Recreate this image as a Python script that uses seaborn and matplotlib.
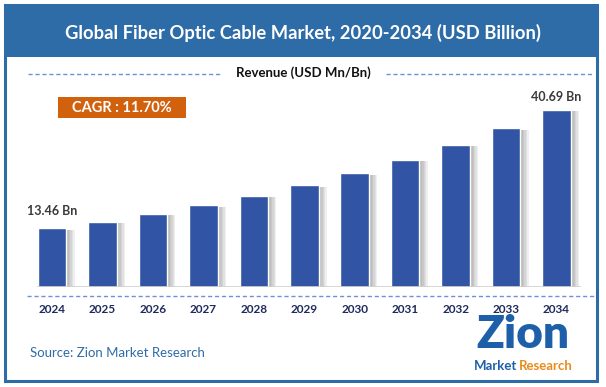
import matplotlib
matplotlib.use("Agg")
import matplotlib.pyplot as plt
import matplotlib.patheffects as pe
from matplotlib.patches import Rectangle
from matplotlib.lines import Line2D
import seaborn as sns
import pandas as pd

years = ["2024", "2025", "2026", "2027", "2028", "2029",
         "2030", "2031", "2032", "2033", "2034"]
revenue = [13.46, 15.03, 16.79, 18.76, 20.96, 23.41,
           26.15, 29.21, 32.63, 36.44, 40.69]
first_label = "13.46 Bn"
last_label = "40.69 Bn"
cagr_text = "CAGR : 11.70%"

W, H = 606, 387
BLUE_BAR = "#3155a4"
BLUE_FRAME = "#2e6ca8"
ORANGE = "#d2610e"

sns.set_style("white")
plt.rcParams["font.family"] = ["Lato", "DejaVu Sans"]

fig = plt.figure(figsize=(W / 100, H / 100), dpi=100)

def fx(px):
    return px / W

def fy(py):
    return 1 - py / H

# frame and banner
fig.patches.append(Rectangle((fx(5), fy(381)), fx(597) - fx(5), fy(5) - fy(381),
                             transform=fig.transFigure, fill=False,
                             edgecolor=BLUE_FRAME, lw=2.2))
fig.patches.append(Rectangle((fx(5), fy(57)), fx(597) - fx(5), fy(5) - fy(57),
                             transform=fig.transFigure, facecolor=BLUE_FRAME,
                             edgecolor="none"))
fig.text(fx(303), fy(33), "Global Fiber Optic Cable Market, 2020-2034 (USD Billion)",
         color="white", fontsize=13.2, fontweight="bold", ha="center", va="center")

# legend line
fig.text(fx(303), fy(73), "Revenue (USD Mn/Bn)", fontsize=9.5, fontweight="bold",
         color="#111111", ha="center", va="center")
for x0, x1 in [(28, 222), (386, 594)]:
    fig.lines.append(Line2D([fx(x0), fx(x1)], [fy(74), fy(74)], transform=fig.transFigure,
                            color="#6f8fd8", lw=1, ls=(0, (3, 2))))

# bars
df = pd.DataFrame({"year": years, "revenue": revenue})
ax = fig.add_axes([fx(27), fy(287), fx(594) - fx(27), fy(90) - fy(287)])
sns.barplot(data=df, x="year", y="revenue", color=BLUE_BAR, width=0.565,
            saturation=1, ax=ax)
# soft drop shadow to the right
shadow = [pe.SimplePatchShadow(offset=(d, -1), shadow_rgbFace="#555555", alpha=0.09)
          for d in (6, 5, 4, 3, 2)]
for p in ax.patches:
    p.set_path_effects(shadow + [pe.Normal()])
ax.set_xlim(-0.4955, 10.743)
ax.set_ylim(0, 197 / 4.35)
ax.hlines(0, -0.3, 10.49, color="#d0d0d0", lw=1.2)
for s in ax.spines.values():
    s.set_visible(False)
ax.set_yticks([])
ax.set_xlabel("")
ax.set_ylabel("")
ax.tick_params(axis="x", length=0, pad=12)
for lab in ax.get_xticklabels():
    lab.set_fontsize(8.5)
    lab.set_fontweight("bold")
    lab.set_color("#1f2a5c")

ax.annotate(first_label, (0, revenue[0]), xytext=(0, 8), textcoords="offset points",
            ha="center", va="bottom", fontsize=9, fontweight="bold", color="#3a3a3a")
ax.annotate(last_label, (10, revenue[-1]), xytext=(0, 5), textcoords="offset points",
            ha="center", va="bottom", fontsize=9, fontweight="bold", color="#3a3a3a")

fig.lines.append(Line2D([fx(27), fx(594)], [fy(296), fy(296)], transform=fig.transFigure,
                        color="#6f8fd8", lw=1, ls=(0, (3, 2))))

# CAGR box
fig.patches.append(Rectangle((fx(58), fy(118)), fx(186) - fx(58), fy(97) - fy(118),
                             transform=fig.transFigure, facecolor=ORANGE, edgecolor="none"))
fig.text(fx(122), fy(107.5), cagr_text, color="white", fontsize=10.5, fontweight="bold",
         ha="center", va="center")

# source + logo
fig.text(fx(30), fy(353), "Source: Zion Market Research", color="#2e6ca8",
         fontsize=9.5, ha="left", va="center")
fig.text(fx(523), fy(335), "Zion", color="#1d5fa8", fontsize=33, fontweight="heavy",
         ha="center", va="center")
fig.text(fx(496), fy(366), "Market", color="#1d5fa8", fontsize=9.5, fontweight="bold",
         ha="center", va="center")
fig.text(fx(546), fy(366), "Research", color="#e98b1a", fontsize=9.5, fontweight="bold",
         ha="center", va="center")

fig.savefig("out.png", dpi=100)
